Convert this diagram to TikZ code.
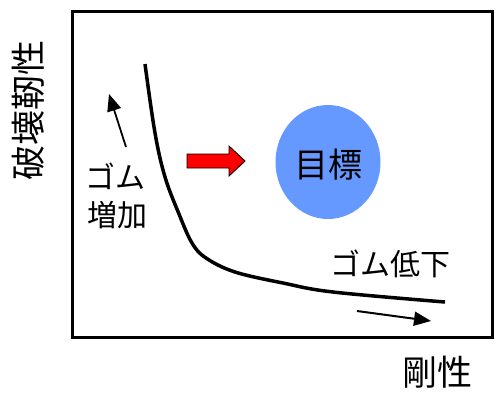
\documentclass[tikz,border=0pt]{standalone}
\usepackage{fontspec}
\setmainfont{Noto Sans CJK JP}
\usetikzlibrary{arrows.meta,shapes.geometric}
\definecolor{goalblue}{HTML}{6699FF}
\tikzset{
  lbl/.style={inner sep=0pt, font=\fontsize{30}{35}\selectfont},
  axlbl/.style={inner sep=0pt, font=\fontsize{35}{40}\selectfont},
  thinarrow/.style={line width=1.8pt, -{Triangle[length=17pt,width=14pt]}},
}
\begin{document}
\begin{tikzpicture}[x=1pt,y=-1pt]
\useasboundingbox (0,0) rectangle (495,392);
% frame
\draw[line width=3pt] (72,11) rectangle (492,337);
% curve
\draw[line width=3.5pt, line cap=butt] plot[smooth, tension=0.6] coordinates
  {(145,64) (155,133) (165,177) (179,214) (192,243) (206,258) (235,272) (283,283) (333,292) (445,302)};
% up arrow
\coordinate (ua) at (126,147);
\coordinate (ub) at (109,94);
\draw[thinarrow] (ua) -- (ub);
\node[lbl] (gomu1) at (115,176) {ゴム};
\node[lbl] (zouka) at (117,215) {増加};
% red arrow
\draw[fill=red, draw=black, line width=0.9pt] (187,154) -- (229,154) -- (229,146) -- (245,161) -- (229,176) -- (229,168) -- (187,168) -- cycle;
% goal
\node[ellipse, fill=goalblue, minimum width=105pt, minimum height=114pt, inner sep=0pt] (goal) at (328,162) {};
\node[inner sep=0pt, font=\fontsize{34}{38}\selectfont] (goaltxt) at (328,165) {目標};
% lower label
\node[lbl] (gomu2) at (390,264) {ゴム低下};
\coordinate (ra) at (357,311);
\coordinate (rb) at (431,321);
\draw[thinarrow, line width=2pt] (ra) -- (rb);
% axes labels
\node[axlbl] (xlab) at (437,372) {剛性};
\node[axlbl, rotate=90] (ylab) at (28,110) {破壊靭性};
\end{tikzpicture}
\end{document}
